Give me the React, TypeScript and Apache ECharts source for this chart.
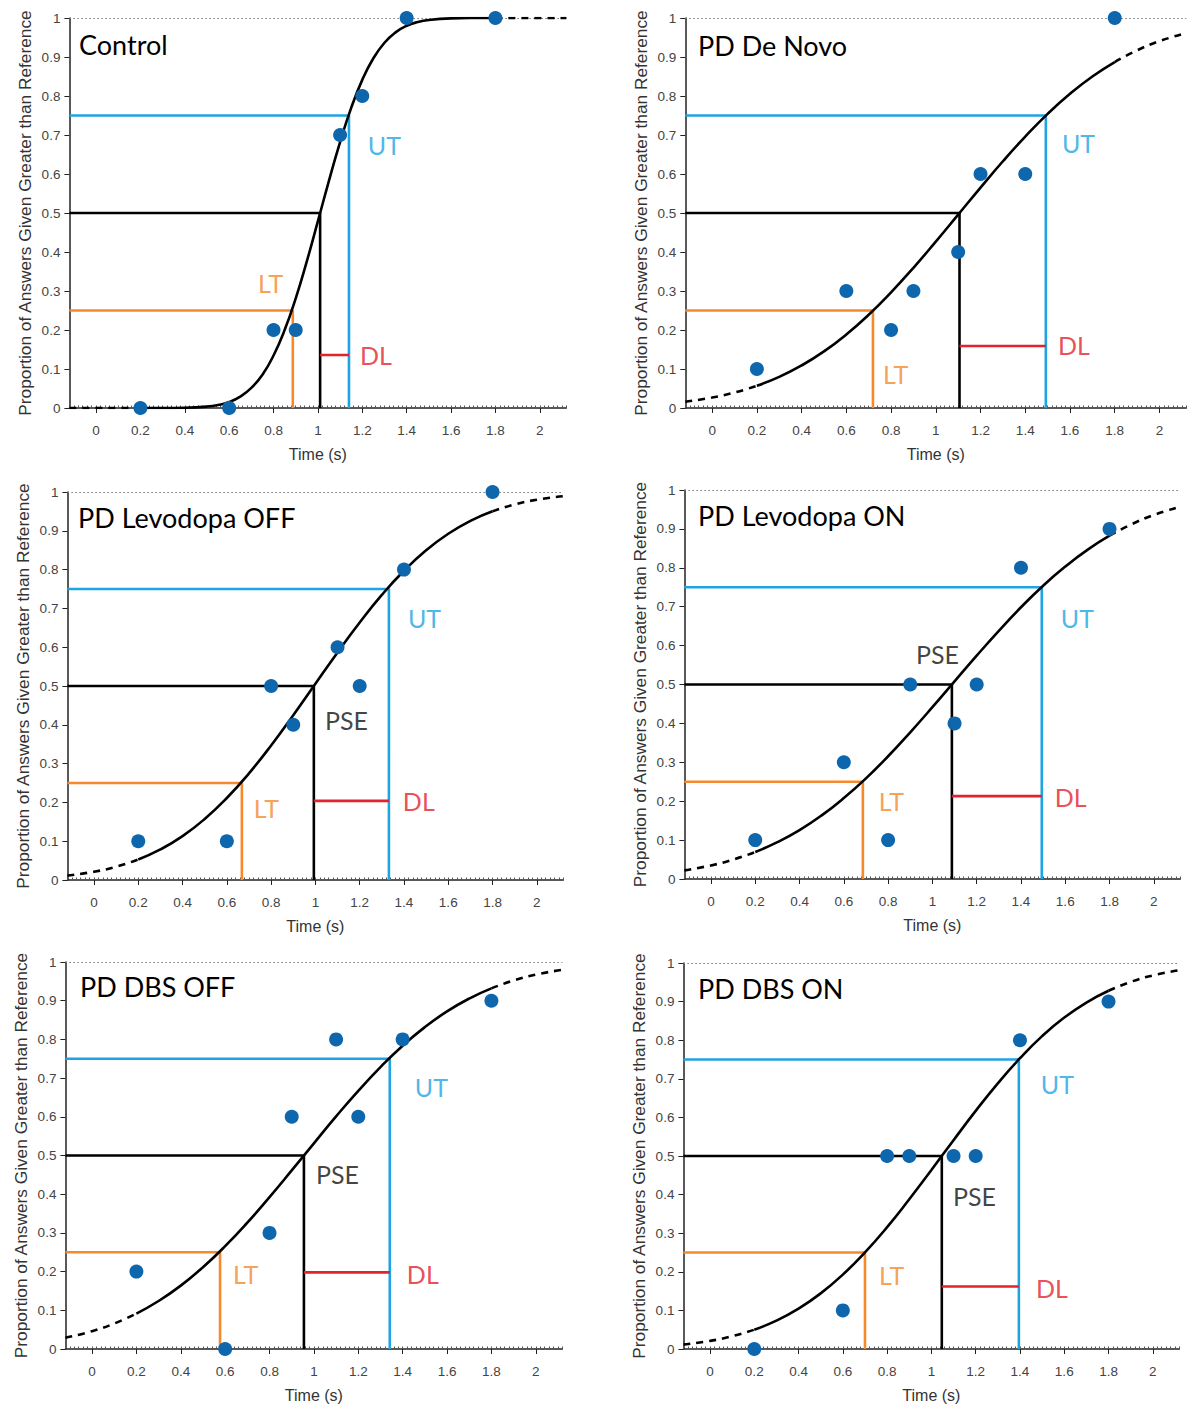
import React, { useEffect, useRef } from "react";
import * as echarts from "echarts";

// ---------- data ----------
const X_MIN = -0.12;
const X_MAX = 2.12;
const X_TICKS = [0, 0.2, 0.4, 0.6, 0.8, 1, 1.2, 1.4, 1.6, 1.8, 2];
const X_TICK_LABELS = ["0", "0.2", "0.4", "0.6", "0.8", "1", "1.2", "1.4", "1.6", "1.8", "2"];
const Y_TICK_LABELS = ["0", "0.1", "0.2", "0.3", "0.4", "0.5", "0.6", "0.7", "0.8", "0.9", "1"];

const TITLES = ["Control", "PD De Novo", "PD Levodopa OFF", "PD Levodopa ON", "PD DBS OFF", "PD DBS ON"];

const STIM_X = [0.2, 0.6, 0.8, 0.9, 1.1, 1.2, 1.4, 1.8];
const P_CONTROL = [0, 0, 0.2, 0.2, 0.7, 0.8, 1, 1];
const P_DENOVO = [0.1, 0.3, 0.2, 0.3, 0.4, 0.6, 0.6, 1];
const P_LEVO_OFF = [0.1, 0.1, 0.5, 0.4, 0.6, 0.5, 0.8, 1];
const P_LEVO_ON = [0.1, 0.3, 0.1, 0.5, 0.4, 0.5, 0.8, 0.9];
const P_DBS_OFF = [0.2, 0, 0.3, 0.6, 0.8, 0.6, 0.8, 0.9];
const P_DBS_ON = [0, 0.1, 0.5, 0.5, 0.5, 0.5, 0.8, 0.9];

// fitted psychometric curves
const CONTROL_CURVE_X = [-0.12, 0, 0.1, 0.2, 0.3, 0.4, 0.5, 0.55, 0.6, 0.65, 0.7, 0.75, 0.8, 0.85, 0.9, 0.95, 1.0, 1.05, 1.1, 1.15, 1.2, 1.25, 1.3, 1.35, 1.4, 1.45, 1.5, 1.6, 1.7, 1.8, 1.9, 2.0, 2.12];
const CONTROL_CURVE_Y = [0, 0, 0, 0, 0.0001, 0.0007, 0.0037, 0.0078, 0.0154, 0.0294, 0.0516, 0.0853, 0.1346, 0.1999, 0.2813, 0.376, 0.479, 0.5832, 0.682, 0.7694, 0.8413, 0.8967, 0.9365, 0.9632, 0.98, 0.9897, 0.995, 0.999, 0.9999, 1, 1, 1, 1];
const CURVE_X = [-0.12, 0, 0.1, 0.2, 0.3, 0.4, 0.5, 0.6, 0.7, 0.8, 0.9, 1.0, 1.1, 1.2, 1.3, 1.4, 1.5, 1.6, 1.7, 1.8, 1.9, 2.0, 2.12];
const DENOVO_CURVE_Y = [0.0162, 0.0268, 0.0396, 0.0569, 0.0797, 0.109, 0.1451, 0.1886, 0.2392, 0.2967, 0.3595, 0.4266, 0.4958, 0.5651, 0.6327, 0.696, 0.7542, 0.8057, 0.8501, 0.8871, 0.9171, 0.9406, 0.9616];
const LEVO_OFF_CURVE_Y = [0.0116, 0.0213, 0.0342, 0.0528, 0.0787, 0.1131, 0.1572, 0.2113, 0.2749, 0.3468, 0.4247, 0.5057, 0.5863, 0.6635, 0.7347, 0.797, 0.8497, 0.8923, 0.9255, 0.9502, 0.9679, 0.9801, 0.9893];
const LEVO_ON_CURVE_Y = [0.0221, 0.0349, 0.0498, 0.0694, 0.0946, 0.1257, 0.1635, 0.2081, 0.2588, 0.3156, 0.3771, 0.4416, 0.508, 0.5742, 0.638, 0.6985, 0.754, 0.8032, 0.8461, 0.8824, 0.912, 0.9357, 0.9573];
const DBS_OFF_CURVE_Y = [0.029, 0.0461, 0.0658, 0.0914, 0.124, 0.1638, 0.2113, 0.2657, 0.3264, 0.3924, 0.4614, 0.5315, 0.601, 0.6671, 0.7284, 0.7838, 0.8317, 0.8724, 0.9056, 0.9319, 0.9522, 0.9673, 0.9801];
const DBS_ON_CURVE_Y = [0.0117, 0.021, 0.033, 0.05, 0.0735, 0.1046, 0.1441, 0.1927, 0.2502, 0.3156, 0.3878, 0.4637, 0.541, 0.6168, 0.6883, 0.7533, 0.8106, 0.8586, 0.8976, 0.9281, 0.9511, 0.9678, 0.9814];

// thresholds: lower threshold (25%), point of subjective equality (50%), upper threshold (75%)
const LT = [0.887, 0.719, 0.668, 0.686, 0.577, 0.7];
const PSE = [1.01, 1.106, 0.993, 1.088, 0.955, 1.047];
const UT = [1.14, 1.492, 1.332, 1.494, 1.342, 1.395];
const DL_LEVEL = [0.136, 0.159, 0.204, 0.213, 0.198, 0.162];
const LEVELS = [0.25, 0.5, 0.75];

// annotation anchors (data coords, left edge / vertical middle)
const LT_LABEL = [[0.73, 0.32], [0.764, 0.087], [0.722, 0.186], [0.758, 0.2], [0.635, 0.193], [0.763, 0.191]];
const UT_LABEL = [[1.225, 0.674], [1.564, 0.679], [1.418, 0.675], [1.58, 0.671], [1.455, 0.678], [1.494, 0.686]];
const DL_LABEL = [[1.19, 0.136], [1.546, 0.162], [1.395, 0.204], [1.553, 0.211], [1.419, 0.193], [1.472, 0.157]];
const PSE_LABEL = [null, null, [1.043, 0.412], [0.926, 0.578], [1.009, 0.451], [1.097, 0.397]];

// ---------- layout / style ----------
const GRIDS = [
  { left: 69.4, top: 18, width: 497, height: 390 },
  { left: 685.3, top: 18, width: 501, height: 390 },
  { left: 67.4, top: 492, width: 496, height: 388 },
  { left: 684.4, top: 490, width: 496, height: 389 },
  { left: 65.4, top: 962, width: 497, height: 388 },
  { left: 683.4, top: 963, width: 496, height: 388 },
];
const TITLE_POS = [[79, 48], [698, 49], [78, 521], [698, 519], [80, 990], [698, 992]];

const C_ORANGE = "#F5892B";
const C_BLUE = "#1EA3E3";
const C_RED = "#E2222C";
const C_BLACK = "#000000";
const C_DOT = "#0E66AD";
const AX = "#222222";
const LBL = "#444444";
const SANS = "Liberation Sans, Arial, sans-serif";
const TITLE_FONT = "Lato, 'Open Sans', sans-serif";

const PANEL_Y = [P_CONTROL, P_DENOVO, P_LEVO_OFF, P_LEVO_ON, P_DBS_OFF, P_DBS_ON];
const PANEL_CX = [CONTROL_CURVE_X, CURVE_X, CURVE_X, CURVE_X, CURVE_X, CURVE_X];
const PANEL_CY = [CONTROL_CURVE_Y, DENOVO_CURVE_Y, LEVO_OFF_CURVE_Y, LEVO_ON_CURVE_Y, DBS_OFF_CURVE_Y, DBS_ON_CURVE_Y];

function buildOption() {
  const grid: any[] = [];
  const xAxis: any[] = [];
  const yAxis: any[] = [];
  const series: any[] = [];
  const graphic: any[] = [];

  for (let i = 0; i < 6; i++) {
    grid.push({ ...GRIDS[i], containLabel: false });
    xAxis.push({
      gridIndex: i,
      type: "value",
      position: "bottom",
      min: X_MIN,
      max: X_MAX,
      axisLine: { show: true, onZero: false, lineStyle: { color: AX, width: 1.5 } },
      axisTick: { show: true, inside: false, length: 5, customValues: X_TICKS, lineStyle: { color: AX } },
      axisLabel: {
        show: true,
        customValues: X_TICKS,
        formatter: (v: number) => {
          const k = X_TICKS.findIndex((t) => Math.abs(t - v) < 1e-6);
          return k >= 0 ? X_TICK_LABELS[k] : "";
        },
        color: LBL,
        fontSize: 13.5,
        fontFamily: SANS,
        margin: 15,
      },
      splitLine: { show: false },
      name: "Time (s)",
      nameLocation: "middle",
      nameGap: 38,
      nameTextStyle: { color: "#333", fontSize: 16, fontFamily: SANS },
    });
    xAxis.push({
      gridIndex: i,
      type: "value",
      position: "bottom",
      offset: 0,
      min: X_MIN,
      max: X_MAX,
      interval: 0.02,
      axisLine: { show: false, onZero: false },
      axisTick: { show: true, inside: true, length: 2.5, lineStyle: { color: "#555", width: 1 } },
      axisLabel: { show: false },
      splitLine: { show: false },
    });
    yAxis.push({
      gridIndex: i,
      type: "value",
      position: "left",
      min: 0,
      max: 1,
      interval: 0.1,
      axisLine: { show: true, onZero: false, lineStyle: { color: AX, width: 1.5 } },
      axisTick: { show: true, inside: false, length: 5, lineStyle: { color: AX } },
      axisLabel: {
        formatter: (v: number) => Y_TICK_LABELS[Math.round(v * 10)],
        color: LBL,
        fontSize: 13.5,
        fontFamily: SANS,
        margin: 9,
      },
      splitLine: { show: false },
      name: "Proportion of Answers Given Greater than Reference",
      nameLocation: "middle",
      nameGap: 36,
      nameRotate: 90,
      nameTextStyle: { color: "#333", fontSize: 17.3, fontFamily: SANS },
    });

    const xi = i * 2;
    const base = { xAxisIndex: xi, yAxisIndex: i, silent: true, animation: false };
    const thr = [LT[i], PSE[i], UT[i]];
    const colors = [C_ORANGE, C_BLACK, C_BLUE];
    for (let k = 0; k < 3; k++) {
      series.push({
        ...base,
        type: "line",
        symbol: "none",
        data: [[X_MIN, LEVELS[k]], [thr[k], LEVELS[k]], [thr[k], 0]],
        lineStyle: { color: colors[k], width: 2.6 },
        z: 2,
      });
    }
    series.push({
      ...base,
      type: "line",
      symbol: "none",
      data: [[PSE[i], DL_LEVEL[i]], [UT[i], DL_LEVEL[i]]],
      lineStyle: { color: C_RED, width: 2.6 },
      z: 2,
    });

    const cx = PANEL_CX[i];
    const cy = PANEL_CY[i];
    const pts = cx.map((x, j) => [x, cy[j]]);
    const left = pts.filter((p) => p[0] <= 0.2 + 1e-9);
    const mid = pts.filter((p) => p[0] >= 0.2 - 1e-9 && p[0] <= 1.8 + 1e-9);
    const right = pts.filter((p) => p[0] >= 1.8 - 1e-9);
    const curveCommon = { ...base, type: "line", symbol: "none", smooth: 0.5, z: 3 };
    series.push({ ...curveCommon, data: left, lineStyle: { color: C_BLACK, width: 2.6, type: [7, 6] } });
    series.push({ ...curveCommon, data: mid, lineStyle: { color: C_BLACK, width: 2.6 } });
    series.push({ ...curveCommon, data: right, lineStyle: { color: C_BLACK, width: 2.6, type: [7, 6] } });

    series.push({
      ...base,
      type: "scatter",
      symbol: "circle",
      symbolSize: 14,
      itemStyle: { color: C_DOT, opacity: 1 },
      data: STIM_X.map((x, j) => [x, PANEL_Y[i][j]]),
      z: 4,
      markLine: {
        silent: true,
        symbol: "none",
        label: { show: false },
        lineStyle: { color: "#777", type: [1.5, 2.5], width: 1 },
        data: [{ yAxis: 1 }],
        z: 1,
      },
    });

    const labels: any[] = [
      { value: LT_LABEL[i], name: "LT", color: C_ORANGE },
      { value: UT_LABEL[i], name: "UT", color: C_BLUE },
      { value: DL_LABEL[i], name: "DL", color: C_RED },
    ];
    if (PSE_LABEL[i]) labels.push({ value: PSE_LABEL[i], name: "PSE", color: "#111" });
    series.push({
      ...base,
      type: "scatter",
      symbolSize: 0,
      z: 5,
      data: labels.map((l) => ({
        value: l.value,
        name: l.name,
        label: {
          show: true,
          position: "inside",
          align: "left",
          verticalAlign: "middle",
          formatter: "{b}",
          color: l.color,
          fontSize: 25,
          fontFamily: TITLE_FONT,
        },
      })),
    });

    graphic.push({
      type: "text",
      left: TITLE_POS[i][0],
      top: TITLE_POS[i][1] - 17,
      style: {
        text: TITLES[i],
        fill: "#000",
        fontSize: 27,
        fontFamily: TITLE_FONT,
      },
      z: 10,
    });
  }

  return { animation: false, backgroundColor: "#fff", grid, xAxis, yAxis, series, graphic };
}

export default function App() {
  const ref = useRef<HTMLDivElement>(null);
  useEffect(() => {
    document.body.style.margin = "0";
    const chart = echarts.init(ref.current!, null, { renderer: "svg" });
    chart.setOption(buildOption() as any);
    return () => chart.dispose();
  }, []);
  return <div ref={ref} style={{ width: 1192, height: 1404 }} />;
}
